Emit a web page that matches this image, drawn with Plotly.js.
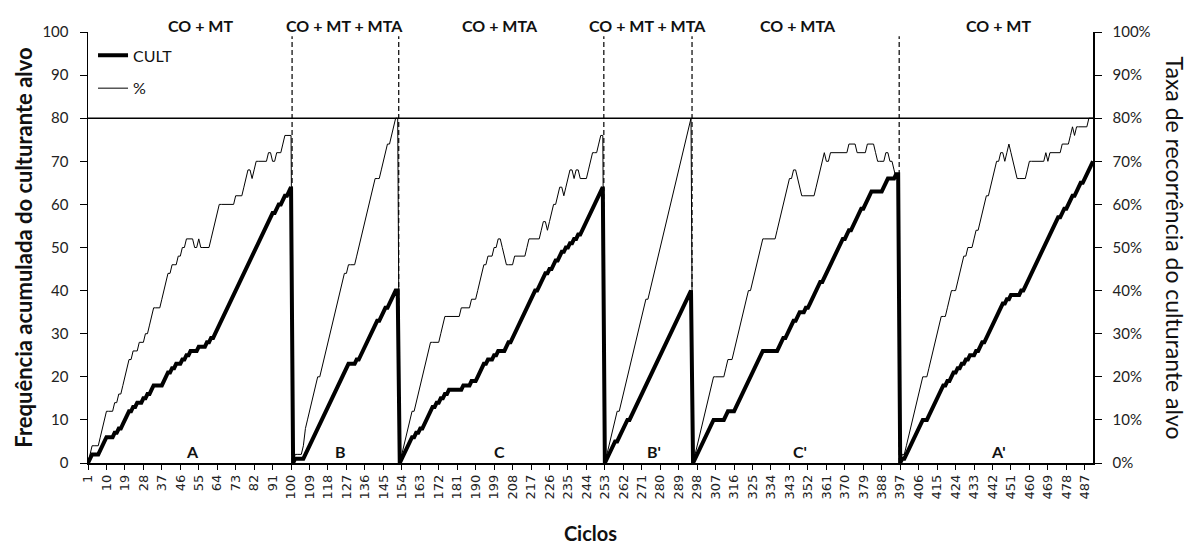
<!DOCTYPE html>
<html>
<head>
<meta charset="utf-8">
<script src="https://cdn.plot.ly/plotly-3.0.1.min.js"></script>
<style>
html,body{margin:0;padding:0;background:#ffffff;}
#chart{width:1191px;height:545px;}
</style>
</head>
<body>
<div id="chart"></div>
<script>
// ---- Data ----
// First cycle of each phase
const phaseStart = [1, 101, 153, 253, 296, 397];
const lastCycle = 491;

// Condition labels (top) and phase letters (bottom)
const conditionLabels = ['CO + MT', 'CO + MT + MTA', 'CO + MTA', 'CO + MT + MTA', 'CO + MTA', 'CO + MT'];
const phaseLetters = ['A', 'B', 'C', "B'", "C'", "A'"];

// CULT: cumulative frequency of the target culturant, per cycle, in each phase
const cultA = [0,1,2,2,2,2,3,4,5,6, 6,6,6,7,7,8,8,9,10,11, 12,12,13,13,14,14,14,15,15,16,
  16,17,18,18,18,18,18,19,20,21, 21,22,22,23,23,23,24,24,25,25, 26,26,26,26,27,27,27,27,28,28,
  29,29,30,31,32,33,34,35,36,37, 38,39,40,41,42,43,44,45,46,47, 48,49,50,51,52,53,54,55,56,57,
  58,58,59,60,60,61,62,62,63,64];
const cultB = [0,1,1,1,1,1,2,3,4,5, 6,7,8,9,10,11,12,13,14,15, 16,17,18,19,20,21,22,23,23,23,
  23,24,24,25,26,27,28,29,30,31, 32,33,33,34,35,36,36,37,38,39, 40,40];
const cultC = [0,1,2,3,4,5,6,6,7,7, 8,8,9,10,11,12,13,13,14,14, 15,15,16,16,17,17,17,17,17,17,
  17,18,18,18,18,19,19,19,20,21, 22,23,23,24,24,24,25,25,26,26, 26,26,27,28,28,29,30,31,32,33,
  34,35,36,37,38,39,40,40,41,42, 43,44,44,45,45,46,47,47,48,49, 49,50,50,51,51,52,52,53,53,54,
  55,56,57,58,59,60,61,62,63,64];
const cultB2 = [0,1,2,3,4,5,5,6,7,8, 9,10,10,11,12,13,14,15,16,17, 18,19,20,21,22,23,24,25,26,27,
  28,29,30,31,32,33,34,35,36,37, 38,39,40];
const cultC2 = [0,1,2,3,4,5,6,7,8,9, 10,10,10,10,10,10,11,12,12,12, 12,13,14,15,16,17,18,19,20,21,
  22,23,24,25,26,26,26,26,26,26, 26,26,27,28,29,29,30,31,32,33, 33,34,35,35,35,36,36,37,38,39,
  40,41,42,42,43,44,45,46,47,48, 49,50,51,52,52,53,54,54,55,56, 57,58,59,59,60,61,62,63,63,63,
  63,63,63,64,65,66,66,66,66,67, 67];
const cultA2 = [0,1,1,2,3,4,5,6,7,8, 9,10,10,10,11,12,13,14,15,16, 17,18,18,19,19,20,21,21,22,22,
  23,23,24,24,25,25,25,26,26,27, 28,28,29,30,31,32,33,34,35,36, 37,37,38,38,39,39,39,39,39,40,
  40,41,42,43,44,45,46,47,48,49, 50,51,52,53,54,55,56,57,57,58, 59,59,60,61,62,62,63,64,65,65,
  66,67,68,69,70];

// %: recurrence rate of the target culturant, per cycle, in each phase
const pctA = [0,2,4,4,4,4,6,8,10,12, 12,12,12,14,14,16,16,18,20,22, 24,24,26,26,26,28,28,28,30,30,
  32,34,36,36,36,36,38,40,42,44, 44,46,46,46,48,48,50,50,52,52, 52,52,50,50,52,50,50,50,50,50,
  52,54,56,58,60,60,60,60,60,60, 60,60,62,62,62,62,64,66,68,68, 66,68,70,70,70,70,70,70,72,72,
  70,70,72,72,72,74,76,76,76,76];
const pctB = [0,2,2,2,2,4,8,10,12,14, 16,18,20,20,22,24,26,28,30,32, 34,36,38,40,42,44,44,46,46,46,
  46,48,50,52,54,56,58,60,62,64, 66,66,66,68,70,72,74,74,76,78, 80,80];
const pctC = [0,2,4,6,8,10,12,12,14,16, 18,20,22,24,26,28,28,28,28,28, 30,32,34,34,34,34,34,34,34,34,
  36,36,36,36,36,38,38,38,40,42, 44,46,46,48,48,48,50,50,52,52, 50,48,46,46,46,46,48,48,48,48,
  48,48,50,52,52,52,52,52,52,54, 56,56,54,56,58,60,60,62,64,64, 62,64,66,68,68,66,68,68,66,66,
  66,66,68,70,72,72,72,74,76,76];
const pctB2 = [0,2,4,6,8,10,12,12,14,16, 18,20,22,24,26,28,30,32,34,36, 38,38,40,42,44,46,48,50,52,54,
  56,58,60,62,64,66,68,70,72,74, 76,78,80];
const pctC2 = [0,2,4,6,8,10,12,14,16,18, 20,20,20,20,20,20,22,24,24,24, 26,28,30,32,34,36,38,40,40,42,
  44,46,48,50,52,52,52,52,52,52, 52,54,56,58,60,62,64,66,66,68, 68,66,64,62,62,62,62,62,62,62,
  64,66,68,70,72,70,70,72,72,72, 72,72,72,72,72,72,74,74,74,74, 72,72,72,72,72,74,74,74,74,72,
  70,70,70,70,72,72,70,70,68,66, 66];
const pctA2 = [0,2,2,4,6,8,10,12,14,16, 18,20,20,20,22,24,26,28,30,32, 34,34,34,36,38,40,40,40,42,44,
  46,48,48,50,50,50,52,54,54,56, 58,60,62,62,64,66,68,70,70,72, 72,70,72,74,72,70,68,66,66,66,
  66,66,68,70,70,70,70,70,70,70, 70,72,70,72,72,72,72,72,72,74, 74,74,74,76,78,76,78,78,78,78,
  78,78,80,80,80];

const cultPhases = [cultA, cultB, cultC, cultB2, cultC2, cultA2];
const pctPhases = [pctA, pctB, pctC, pctB2, pctC2, pctA2];

// Target criterion line (80)
const criterion = 80;

// ---- Build series ----
function buildSeries(phases) {
  const xs = [], ys = [];
  phases.forEach((arr, p) => {
    arr.forEach((v, i) => { xs.push(phaseStart[p] + i); ys.push(v); });
  });
  return {xs, ys};
}
const cult = buildSeries(cultPhases);
const pct = buildSeries(pctPhases);

// ---- Layout helpers (positions/styles) ----
const labelCenters = [56, 126, 202, 274, 347, 445];
const letterCenters = [52, 124, 201.5, 277, 348, 445];
const FONT = 'Lato, "Open Sans", sans-serif';

const shapes = [];
// phase boundaries (dashed)
for (let p = 1; p < phaseStart.length; p++) {
  shapes.push({type: 'line', xref: 'x', yref: 'y', x0: phaseStart[p] - 0.5, x1: phaseStart[p] - 0.5,
    y0: 0, y1: 99, line: {color: '#000', width: 1.2, dash: '5px,3px'}, layer: 'above'});
}
// criterion line
shapes.push({type: 'line', xref: 'paper', yref: 'y', x0: 0, x1: 1, y0: criterion, y1: criterion,
  line: {color: '#000', width: 1.5}, layer: 'above'});

const annotations = [];
conditionLabels.forEach((t, i) => {
  annotations.push({text: '<b>' + t + '</b>', xref: 'x', yref: 'paper', x: labelCenters[i], y: 1.016,
    xanchor: 'center', yanchor: 'middle', showarrow: false, font: {family: FONT, size: 16, color: '#111'}});
});
phaseLetters.forEach((t, i) => {
  annotations.push({text: '<b>' + t + '</b>', xref: 'x', yref: 'y', x: letterCenters[i], y: 2.6,
    xanchor: 'center', yanchor: 'middle', showarrow: false, font: {family: FONT, size: 16, color: '#111'}});
});
// right axis title (reads top to bottom)
annotations.push({text: 'Taxa de recorrência do culturante alvo', xref: 'paper', yref: 'paper',
  x: 1.0816, y: 0.5, xanchor: 'center', yanchor: 'middle', textangle: 90, showarrow: false,
  font: {family: FONT, size: 23, color: '#111'}});

const traces = [
  {x: cult.xs, y: cult.ys, type: 'scatter', mode: 'lines', name: 'CULT', yaxis: 'y',
   line: {color: '#000', width: 4}, legendgroup: 'g1', hoverinfo: 'x+y'},
  {x: pct.xs, y: pct.ys, type: 'scatter', mode: 'lines', name: '%', yaxis: 'y2',
   line: {color: '#000', width: 1}, legendgroup: 'g2', hoverinfo: 'x+y'}
];

const layout = {
  width: 1191, height: 545,
  margin: {l: 88, r: 98, t: 32, b: 82, pad: 0},
  paper_bgcolor: '#fff', plot_bgcolor: 'rgba(0,0,0,0)',
  font: {family: FONT, color: '#111', size: 15},
  showlegend: true,
  legend: {x: 0.005, y: 0.985, xanchor: 'left', yanchor: 'top', bgcolor: 'rgba(0,0,0,0)',
    font: {family: FONT, size: 16, color: '#111'}, traceorder: 'grouped', tracegroupgap: 9},
  xaxis: {
    range: [1, lastCycle], tick0: 1, dtick: 9, tickangle: -90,
    ticks: 'outside', ticklen: 5, tickwidth: 1, tickcolor: '#000',
    showline: true, linecolor: '#000', linewidth: 1.5,
    showgrid: false, zeroline: false,
    tickfont: {family: '"DejaVu Sans", sans-serif', size: 13, color: '#222'},
    title: {text: '<b>Ciclos</b>', font: {family: FONT, size: 20, color: '#111'}, standoff: 28}
  },
  yaxis: {
    range: [0, 100], dtick: 10, ticks: 'outside', ticklen: 7, tickwidth: 1, tickcolor: '#000',
    showline: true, linecolor: '#000', linewidth: 1.5, showgrid: false, zeroline: false,
    ticklabelstandoff: 8,
    tickfont: {family: FONT, size: 15, color: '#222'},
    title: {text: '<b>Frequência acumulada do culturante alvo</b>', font: {family: FONT, size: 22, color: '#111'}, standoff: 3}
  },
  yaxis2: {
    overlaying: 'y', side: 'right', range: [0, 100], dtick: 10, ticksuffix: '%',
    ticks: 'outside', ticklen: 7, tickwidth: 1, tickcolor: '#000',
    showline: true, linecolor: '#000', linewidth: 1.5, showgrid: false, zeroline: false,
    ticklabelstandoff: 8,
    tickfont: {family: FONT, size: 15, color: '#222'}
  },
  shapes: shapes,
  annotations: annotations
};

Plotly.newPlot('chart', traces, layout, {displayModeBar: false, staticPlot: true});
</script>
</body>
</html>
